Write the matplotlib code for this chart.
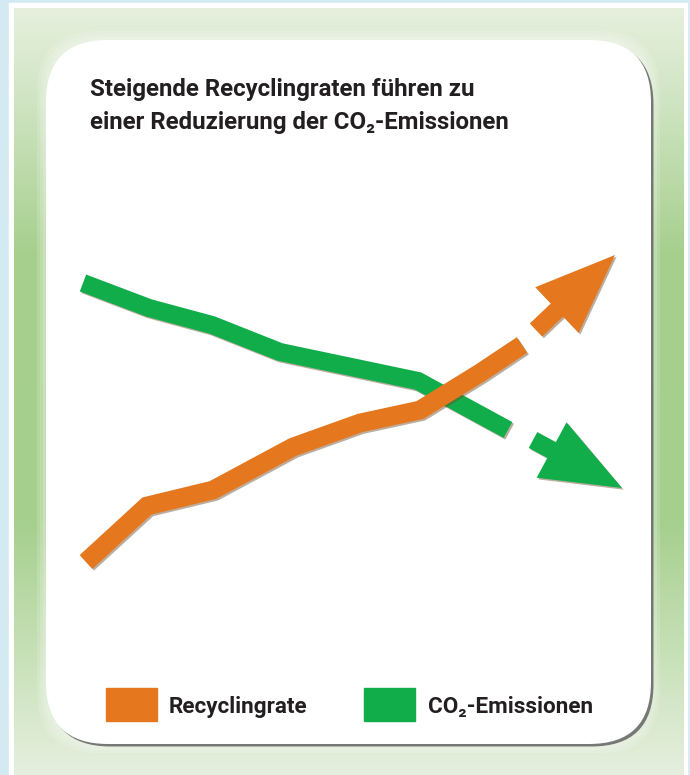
import matplotlib

matplotlib.use("Agg")
import matplotlib.pyplot as plt
import matplotlib.patheffects as pe
import numpy as np
from matplotlib.colors import to_rgb
from matplotlib.patches import FancyArrow, FancyBboxPatch, Rectangle

# ---- data (canvas pixel units: x right, y down) ----
recycling_x = [86, 147, 213, 293, 360, 420, 480, 522]
recycling_y = [562, 506, 490, 447, 423, 410, 373, 345]
emissions_x = [83, 149, 212, 280, 418, 508]
emissions_y = [283, 308, 325, 352, 381, 430]
# dashed continuation -> arrow (start, tip)
recycling_arrow = [(536, 330), (615, 255)]
emissions_arrow = [(533, 440), (622, 488)]

title_lines = ["Steigende Recyclingraten führen zu", "einer Reduzierung der CO\u2082-Emissionen"]
series_labels = ["Recyclingrate", "CO\u2082-Emissionen"]

ORANGE = "#e5781e"
GREEN = "#10ad4a"
TEXT = "#231f20"
FONT = ["Roboto", "DejaVu Sans"]

W, H = 690, 775
fig = plt.figure(figsize=(W / 100, H / 100), dpi=100)
fig.patch.set_facecolor("#d3eaf3")
ax = fig.add_axes([0, 0, 1, 1])
ax.set_xlim(0, W); ax.set_ylim(H, 0)
ax.set_axis_off()

# frame: white border + green gradient panel
ax.add_patch(Rectangle((9, 3), 678, 780, color="white", zorder=0))
stops_y = [8, 110, 250, 520, 650, 775]
stops_c = ["#e6f0de", "#cde3bf", "#a7d08f", "#a5cf8d", "#c6e0b6", "#e6efdf"]
yy = np.linspace(8, 775, 400)
rgb = np.array([to_rgb(c) for c in stops_c])
grad = np.stack([np.interp(yy, stops_y, rgb[:, k]) for k in range(3)], axis=-1)[:, None, :]
ax.imshow(grad, extent=[14, 684, 775, 8], aspect="auto", zorder=0.5, interpolation="bilinear")

# white card with soft glow and shadow
box = dict(boxstyle="round,pad=0,rounding_size=62")
for g in [9, 6, 3]:
    ax.add_patch(FancyBboxPatch((46 - g, 40 - g), 605 + 2 * g, 704 + 2 * g, fc="white", ec="none",
                                alpha=0.15, zorder=1, **box))
ax.add_patch(FancyBboxPatch((48.5, 42.5), 605, 704, fc="#5a5a5a", ec="none", alpha=0.8, zorder=1.5, **box))
ax.add_patch(FancyBboxPatch((46, 40), 605, 704, fc="white", ec="none", zorder=2, **box))

# lines
shadow = [pe.SimpleLineShadow(offset=(1.2, -1.2), shadow_color="#6b4a2a", alpha=0.45), pe.Normal()]
ax.plot(emissions_x, emissions_y, color=GREEN, lw=13, solid_joinstyle="miter", solid_capstyle="butt",
        zorder=3, path_effects=shadow)
ax.plot(recycling_x, recycling_y, color=ORANGE, lw=13.5, solid_joinstyle="miter", solid_capstyle="butt",
        zorder=4, path_effects=shadow)
for (x0, y0), (x1, y1), col in [(*recycling_arrow, ORANGE), (*emissions_arrow, GREEN)]:
    ax.add_patch(FancyArrow(x0, y0, x1 - x0, y1 - y0, width=18, head_width=63, head_length=80,
                            length_includes_head=True, fc=col, ec="none", zorder=4,
                            path_effects=[pe.withSimplePatchShadow(offset=(1.2, -1.2), shadow_rgbFace="#6b4a2a",
                                                                   alpha=0.45)]))

# text: one size per block, fitted so a reference string has the reference width
renderer = fig.canvas.get_renderer()


def put(x, y, s, size):
    return ax.text(x, y, s, fontsize=size, fontweight="bold", color=TEXT, family=FONT,
                   ha="left", va="baseline", zorder=5)


def fitted_size(s, width_px, size0=16):
    t = put(0, 0, s, size0)
    w = t.get_window_extent(renderer).width
    t.remove()
    return min(size0 * 1.3, size0 * width_px / w)


title_size = fitted_size(title_lines[0], 385)
put(90, 96, title_lines[0], title_size)
put(90, 129, title_lines[1], title_size)

# legend
legend_size = fitted_size(series_labels[0], 139)
for (lx, tx), lab, col in zip([(106, 169), (364, 428)], series_labels, [ORANGE, GREEN]):
    ax.add_patch(Rectangle((lx, 688), 51, 33, color=col, zorder=5))
    put(tx, 713, lab, legend_size)

fig.savefig("out.png", dpi=100)
